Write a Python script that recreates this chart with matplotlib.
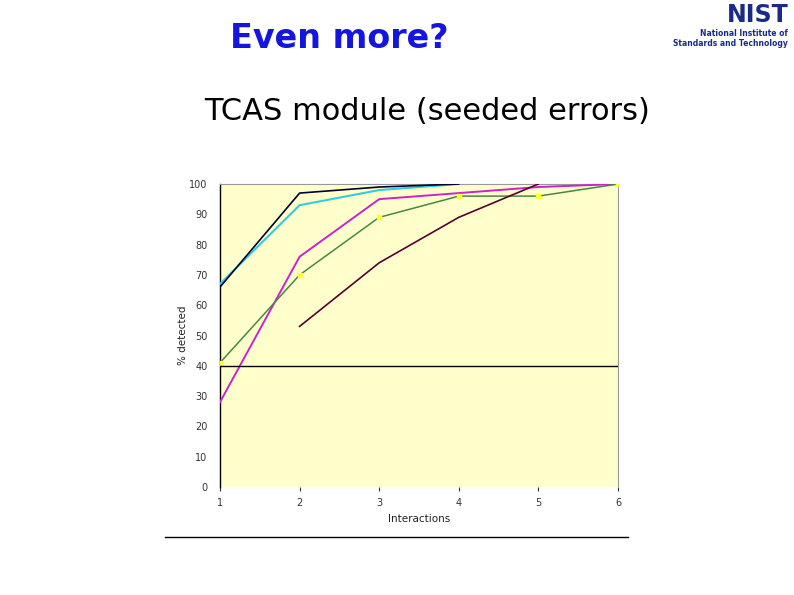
import matplotlib
matplotlib.use("Agg")
import matplotlib.pyplot as plt
from matplotlib.lines import Line2D

# Data
x_black = [1, 2, 3, 4]
y_black = [66, 97, 99, 100]
x_cyan = [1, 2, 3, 4]
y_cyan = [67, 93, 98, 100]
x_magenta = [1, 2, 3, 4, 5, 6]
y_magenta = [28, 76, 95, 97, 99, 100]
x_green = [1, 2, 3, 4, 5, 6]
y_green = [41, 70, 89, 96, 96, 100]
x_purple = [2, 3, 4, 5]
y_purple = [53, 74, 89, 100]
xticks = [1, 2, 3, 4, 5, 6]
yticks = [0, 10, 20, 30, 40, 50, 60, 70, 80, 90, 100]

fig = plt.figure(figsize=(7.94, 5.95), dpi=100)
fig.patch.set_facecolor("white")

ax = fig.add_axes([220/794, 1-487/595, (618-220)/794, (487-184)/595])
ax.set_facecolor("#FFFFCC")

ax.plot(x_black, y_black, color="#000033", lw=1.2, zorder=5)
ax.plot(x_cyan, y_cyan, color="#33CCDD", lw=1.5, zorder=4)
ax.plot(x_magenta, y_magenta, color="#CC22CC", lw=1.4, zorder=3)
ax.plot(x_green, y_green, color="#448844", lw=1.1, zorder=3,
        marker="s", markersize=2.5, markerfacecolor="#FFFF33", markeredgecolor="#FFFF33")
ax.plot(x_purple, y_purple, color="#550033", lw=1.2, zorder=3)
ax.axhline(40, color="black", lw=1.0, zorder=6)

ax.set_xlim(1, 6)
ax.set_ylim(0, 100)
ax.set_xticks(xticks)
ax.set_yticks(yticks)
ax.tick_params(axis="both", labelsize=7, colors="#333333", length=3, width=0.8)
ax.tick_params(axis="x", direction="out", pad=5)
ax.tick_params(axis="y", length=0, pad=9)

for s in ["top", "right"]:
    ax.spines[s].set_color("#999999")
    ax.spines[s].set_linewidth(0.8)
ax.spines["bottom"].set_visible(False)
ax.spines["left"].set_color("black")
ax.spines["left"].set_linewidth(1.0)

ax.set_xlabel("Interactions", fontsize=7.5, color="#222222", labelpad=4)
ax.set_ylabel("% detected", fontsize=7.5, color="#222222", labelpad=1)

fig.text(339/794, 1-38/595, "Even more?", fontsize=24, fontweight="bold",
         color="#1515E0", ha="center", va="center")
fig.text(427/794, 1-112/595, "TCAS module (seeded errors)", fontsize=22,
         color="black", ha="center", va="center")

# NIST logo text
fig.text(758/794, 1-15/595, "NIST", fontsize=17, fontweight="bold",
         color="#1a2a8a", ha="center", va="center")
fig.text(788/794, 1-34/595, "National Institute of", fontsize=5.5, fontweight="bold",
         color="#1a2a8a", ha="right", va="center")
fig.text(788/794, 1-44/595, "Standards and Technology", fontsize=5.5, fontweight="bold",
         color="#1a2a8a", ha="right", va="center")

fig.add_artist(Line2D([165/794, 628/794], [1-537/595, 1-537/595],
                      color="black", lw=1.0, transform=fig.transFigure))

fig.savefig("out.png", dpi=100)
